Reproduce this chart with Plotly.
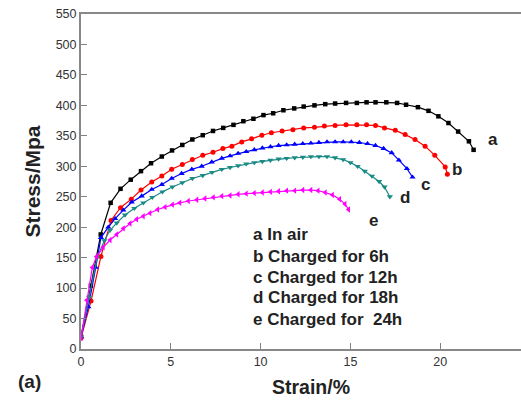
import plotly.graph_objects as go

# Curve a: in air (black squares)
strain_a = [0, 0.55, 1.1, 1.65, 2.2, 2.77, 3.34, 3.9, 4.5, 5.07, 5.64, 6.2, 6.78, 7.35, 7.92,
            8.49, 9.04, 9.6, 10.16, 10.7, 11.27, 11.87, 12.4, 13.0, 13.6, 14.15, 14.76, 15.36,
            15.9, 16.4, 17.0, 17.6, 18.1, 18.76, 19.35, 19.9, 20.46, 21.0, 21.6, 21.86]
stress_a = [20, 104, 188, 240, 263, 278, 292, 305, 316, 326, 335, 344, 351, 358, 363,
            368, 374, 378, 384, 387, 392, 395, 398, 400, 402, 403, 404, 404,
            405, 405, 405, 404, 401, 397, 391, 382, 371, 357, 341, 327]

# Curve b: charged 6h (red circles)
strain_b = [0, 0.56, 1.11, 1.67, 2.2, 2.8, 3.34, 3.94, 4.5, 5.05, 5.64, 6.2, 6.78, 7.35, 7.9,
            8.4, 8.95, 9.5, 10.07, 10.6, 11.2, 11.8, 12.4, 13.0, 13.55, 14.15, 14.76, 15.36,
            15.9, 16.4, 16.9, 17.5, 18.05, 18.6, 19.16, 19.7, 20.28, 20.4]
stress_b = [18, 79, 152, 211, 232, 246, 261, 274, 284, 295, 303, 311, 318, 323, 329,
            333, 340, 345, 351, 355, 358, 360, 363, 364, 366, 367, 368, 368,
            368, 367, 363, 359, 352, 344, 333, 318, 299, 287]

# Curve c: charged 12h (blue up-triangles)
strain_c = [0, 0.41, 0.82, 1.11, 1.52, 1.9, 2.36, 2.82, 3.38, 3.94, 4.5, 5.05, 5.6, 6.17,
            6.72, 7.28, 7.84, 8.3, 8.75, 9.2, 9.65, 10.1, 10.55, 11.0, 11.45, 11.9, 12.35,
            12.8, 13.25, 13.7, 14.15, 14.6, 15.05, 15.5, 15.95, 16.4, 16.85, 17.3, 17.7,
            18.15, 18.46]
stress_c = [20, 69, 134, 183, 200, 214, 228, 241, 251, 262, 270, 280, 288, 295,
            300, 307, 313, 317, 321, 324, 327, 330, 332, 334, 335, 336, 337,
            338, 339, 340, 340, 340, 340, 339, 337, 334, 329, 322, 310,
            296, 282]

# Curve d: charged 18h (teal down-triangles)
strain_d = [0, 0.45, 0.9, 1.3, 1.62, 1.99, 2.45, 2.97, 3.47, 3.97, 4.53, 5.09, 5.64, 6.2,
            6.78, 7.3, 7.84, 8.3, 8.75, 9.2, 9.65, 10.1, 10.55, 11.0, 11.45, 11.9, 12.35,
            12.8, 13.25, 13.7, 14.15, 14.6, 15.0, 15.4, 15.8, 16.2, 16.6, 16.9, 17.2]
stress_d = [20, 85, 150, 178, 195, 207, 220, 231, 240, 249, 258, 266, 273, 280,
            285, 290, 295, 298, 301, 304, 306, 308, 310, 312, 313, 314, 315,
            316, 316, 316, 314, 311, 306, 300, 292, 284, 275, 266, 250]

# Curve e: charged 24h (magenta left-triangles)
strain_e = [0, 0.32, 0.63, 0.87, 1.24, 1.62, 1.99, 2.36, 2.73, 3.1, 3.47, 3.84, 4.27, 4.68,
            5.09, 5.5, 5.98, 6.45, 6.9, 7.37, 7.84, 8.3, 8.75, 9.2, 9.65, 10.1, 10.55,
            11.0, 11.45, 11.9, 12.35, 12.8, 13.2, 13.6, 14.0, 14.4, 14.7, 14.9]
stress_e = [18, 80, 134, 152, 167, 179, 188, 198, 206, 213, 218, 223, 229, 233,
            237, 240, 243, 245, 247, 249, 251, 252, 254, 255, 256, 257, 258,
            259, 260, 260, 261, 261, 260, 257, 253, 246, 238, 229]

curve_labels = ["a", "b", "c", "d", "e"]
curve_label_x = [22.95, 20.95, 19.16, 18.05, 16.3]
curve_label_y = [344, 295, 270, 249, 211]

legend_lines = ["a In air", "b Charged for 6h", "c Charged for 12h",
                "d Charged for 18h", "e Charged for\u00a0\u00a024h"]
legend_y = [188, 152, 118, 84, 48]

x_ticks = [0, 5, 10, 15, 20]
y_ticks = [0, 50, 100, 150, 200, 250, 300, 350, 400, 450, 500, 550]

series = [
    (strain_a, stress_a, "#000000", "square", 4.5),
    (strain_b, stress_b, "#ff0000", "circle", 5),
    (strain_c, stress_c, "#0000ff", "triangle-up", 5.5),
    (strain_d, stress_d, "#1a8a85", "triangle-down", 5.5),
    (strain_e, stress_e, "#ff00ff", "triangle-left", 5.5),
]

fig = go.Figure()
for xs, ys, col, sym, sz in series:
    fig.add_trace(go.Scatter(
        x=xs, y=ys, mode="lines+markers",
        line=dict(color=col, width=1.2),
        marker=dict(symbol=sym, size=sz, color=col),
        showlegend=False))

font_b = "Arial, Liberation Sans, sans-serif"
for t, x, y in zip(curve_labels, curve_label_x, curve_label_y):
    fig.add_annotation(x=x, y=y, text="<b>%s</b>" % t, showarrow=False,
                       font=dict(family=font_b, size=17, color="#222222"))
for t, y in zip(legend_lines, legend_y):
    fig.add_annotation(x=9.45, y=y, text="<b>%s</b>" % t, showarrow=False,
                       xanchor="left", font=dict(family=font_b, size=17, color="#222222"))

fig.add_annotation(xref="paper", yref="paper", x=-0.116, y=-0.0985, xanchor="center",
                   yanchor="middle", text="<b>(a)</b>", showarrow=False,
                   font=dict(family=font_b, size=19, color="#222222"))
fig.add_annotation(xref="paper", yref="paper", x=0.523, y=-0.112, xanchor="center",
                   yanchor="middle", text="<b>Strain/%</b>", showarrow=False,
                   font=dict(family=font_b, size=19.5, color="#222222"))

fig.update_layout(
    width=521, height=400,
    margin=dict(l=81, r=0, t=14, b=51),
    paper_bgcolor="white", plot_bgcolor="white",
    font=dict(family=font_b, size=12.5, color="#333333"),
    xaxis=dict(range=[0, 24.5], tickvals=x_ticks, ticks="inside", ticklen=6,
               tickcolor="#808080", showline=True, linecolor="#888888", linewidth=2,
               mirror=True, showgrid=False, zeroline=False, automargin=False,
               ticklabeloverflow="allow"),
    yaxis=dict(range=[0, 550], tickvals=y_ticks, ticks="inside", ticklen=6,
               tickcolor="#808080", showline=True, linecolor="#888888", linewidth=2,
               showgrid=False, zeroline=False, automargin=False,
               ticklabeloverflow="allow",
               title=dict(text="<b>Stress/Mpa</b>", font=dict(size=21, color="#222222"),
                          standoff=9)),
)

fig.write_html("out.html", config={"displayModeBar": False},
               post_script="document.body.style.margin='0';document.body.style.overflow='hidden';")
